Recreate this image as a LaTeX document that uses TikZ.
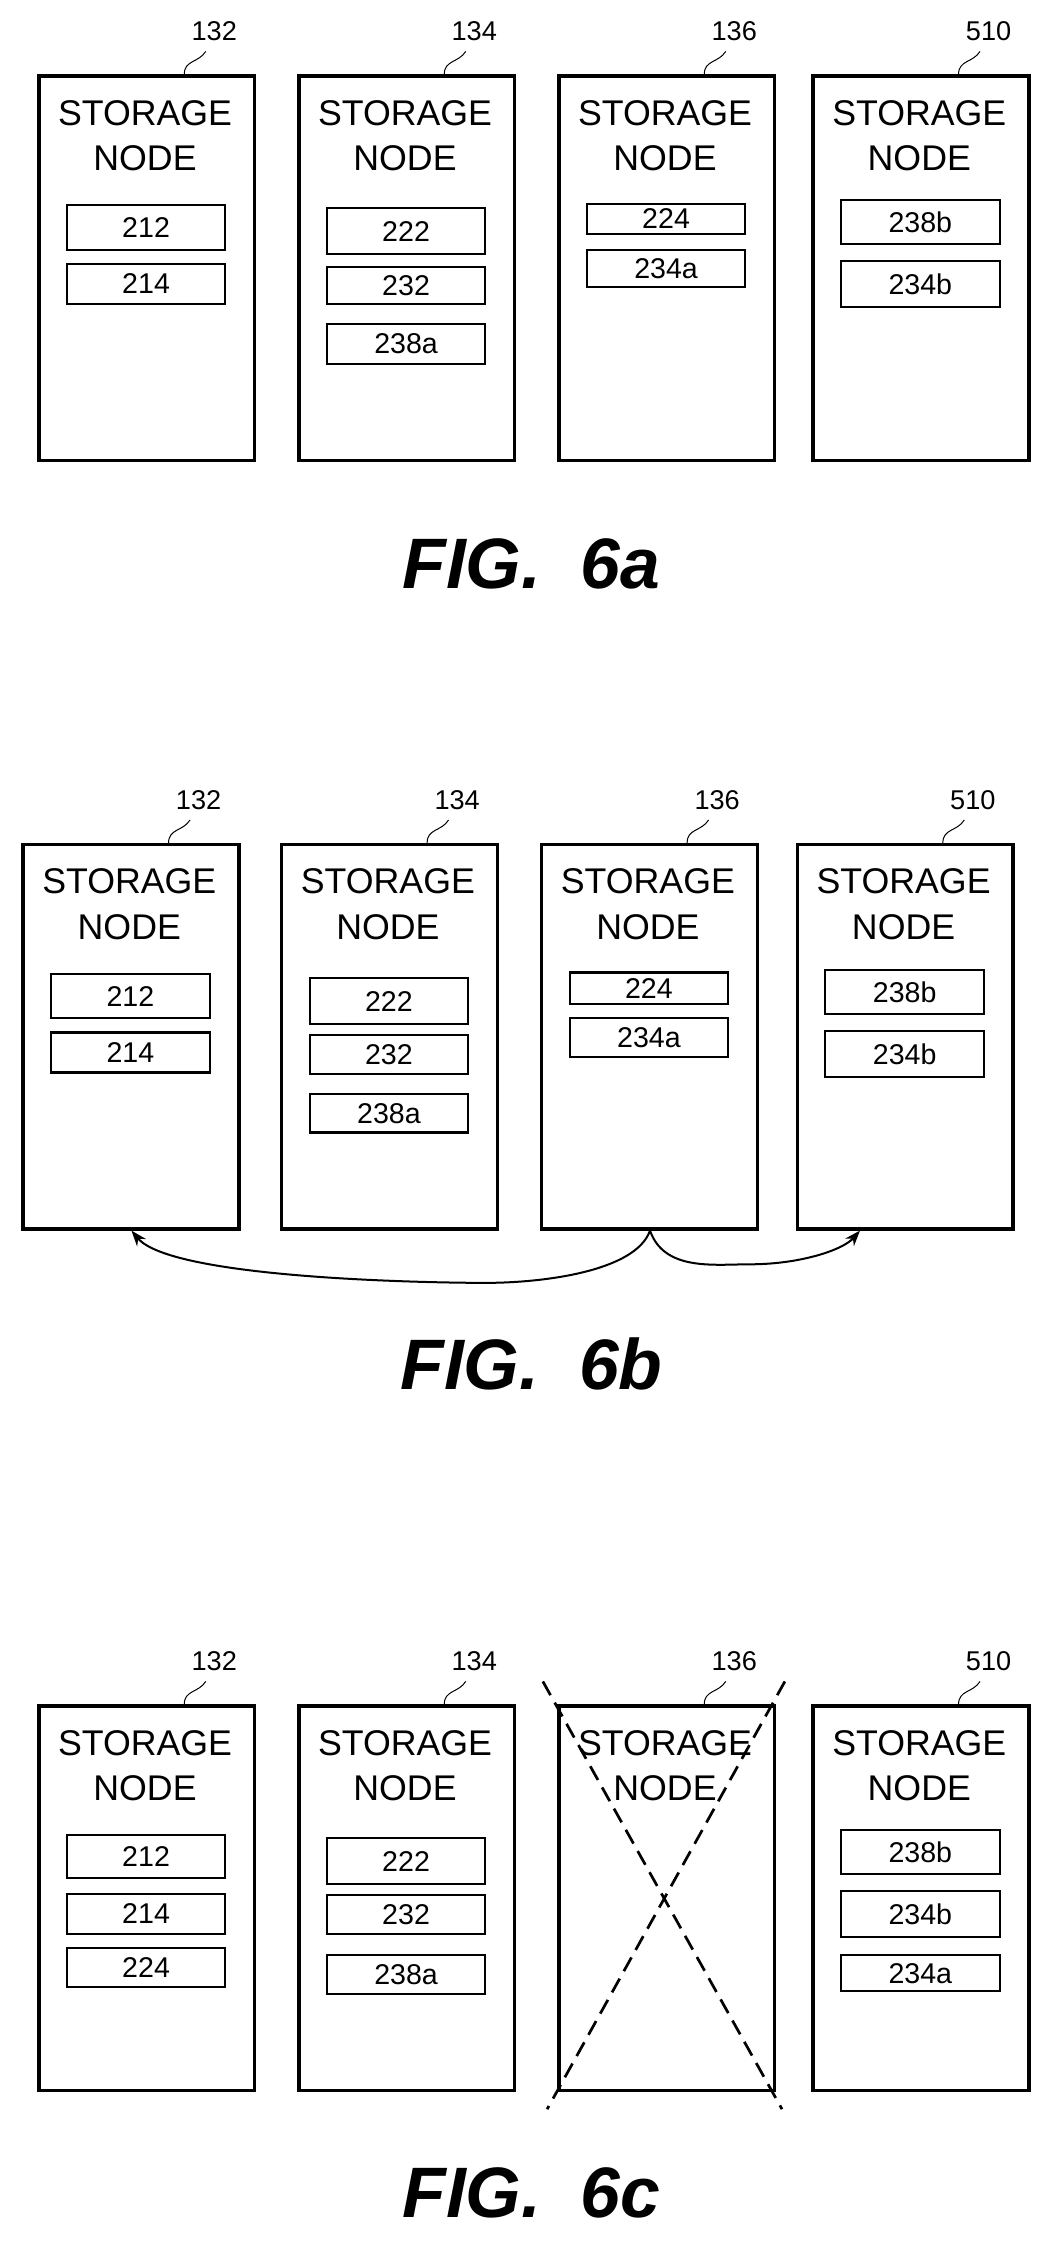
\documentclass[tikz,border=0pt]{standalone}
\usepackage{fontspec}
\setmainfont{Liberation Sans}
\usetikzlibrary{calc,arrows.meta}
\begin{document}
\begin{tikzpicture}[x=1pt,y=-1pt,
  sn/.style={draw,line width=2.4pt,minimum width=151pt,minimum height=269pt,anchor=north west,inner sep=0pt},
  ib/.style={draw,line width=1.5pt,minimum width=111pt,anchor=north west,inner sep=0pt,font=\fontsize{20}{20}\selectfont},
  tt/.style={font=\fontsize{25}{32}\selectfont,align=center},
  rl/.style={font=\fontsize{19}{19}\selectfont},
  fig/.style={font=\fontsize{50}{50}\selectfont\bfseries\itshape}]
\useasboundingbox (0,0) rectangle (737,1575);
\newcommand{\stn}[4]{%
  \node[sn] (#1) at (#2,#3) {};
  \node[tt] (#1t) at ($(#2,#3)+(75.5,43)$) {STORAGE\\NODE};
  \node[rl] (#1r) at ($(#2,#3)+(124,-30)$) {#4};
  \draw[line width=0.7pt] ($(#2,#3)+(103,0)$) .. controls ($(#2,#3)+(103,-10)$) and ($(#2,#3)+(113,-8)$) .. ($(#2,#3)+(118,-16)$);
}
\newcommand{\ibx}[6]{%
  \node[ib,minimum height=#4-#3] (#1) at (#2,#3) {#5};}
% ---- FIG 6a
\stn{a1}{26}{52}{132}\stn{a2}{208}{52}{134}\stn{a3}{390}{52}{136}\stn{a4}{568}{52}{510}
\ibx{a11}{46}{143}{174}{212}{}\ibx{a12}{46}{184}{212}{214}{}
\ibx{a21}{228}{145}{177}{222}{}\ibx{a22}{228}{186}{212}{232}{}\ibx{a23}{228}{226}{254}{238a}{}
\ibx{a31}{410}{142}{163}{224}{}\ibx{a32}{410}{174}{200}{234a}{}
\ibx{a41}{588}{139}{170}{238b}{}\ibx{a42}{588}{182}{214}{234b}{}
\node[fig] (fa) at (372,395) {FIG.\ \ 6a};
% ---- FIG 6b
\stn{b1}{15}{590}{132}\stn{b2}{196}{590}{134}\stn{b3}{378}{590}{136}\stn{b4}{557}{590}{510}
\ibx{b11}{35}{681}{712}{212}{}\ibx{b12}{35}{722}{750}{214}{}
\ibx{b21}{216}{684}{716}{222}{}\ibx{b22}{216}{724}{751}{232}{}\ibx{b23}{216}{765}{792}{238a}{}
\ibx{b31}{398}{680}{702}{224}{}\ibx{b32}{398}{712}{739}{234a}{}
\ibx{b41}{577}{678}{709}{238b}{}\ibx{b42}{577}{721}{753}{234b}{}
\coordinate (bs) at ($(b3.south west)+(77,0)$);
\coordinate (bl) at ($(b1.south west)+(77,0)$);
\coordinate (br) at ($(b4.south west)+(45,0)$);
\draw[line width=1.4pt,-{Stealth[length=11pt,width=8pt]}] (bs) .. controls (445,890) and (380,898) .. (340,898) .. controls (300,898) and (120,895) .. (bl);
\draw[line width=1.4pt,-{Stealth[length=11pt,width=8pt]}] (bs) .. controls (465,890) and (500,885) .. (525,885) .. controls (560,885) and (590,875) .. (br);
\node[fig] (fb) at (372,955) {FIG.\ \ 6b};
% ---- FIG 6c
\stn{c1}{26}{1193}{132}\stn{c2}{208}{1193}{134}\stn{c3}{390}{1193}{136}\stn{c4}{568}{1193}{510}
\ibx{c11}{46}{1284}{1314}{212}{}\ibx{c12}{46}{1325}{1353}{214}{}\ibx{c13}{46}{1363}{1390}{224}{}
\ibx{c21}{228}{1286}{1318}{222}{}\ibx{c22}{228}{1326}{1353}{232}{}\ibx{c23}{228}{1368}{1395}{238a}{}
\ibx{c41}{588}{1280}{1311}{238b}{}\ibx{c42}{588}{1323}{1355}{234b}{}\ibx{c43}{588}{1368}{1393}{234a}{}
\coordinate (x1) at ($(c3.north west)+(-10,-16)$);
\coordinate (x2) at ($(c3.south east)+(4,12)$);
\coordinate (x3) at ($(c3.north east)+(6,-16)$);
\coordinate (x4) at ($(c3.south west)+(-7,12)$);
\draw[line width=1.9pt,dash pattern=on 11pt off 6pt] (x1) -- (x2);
\draw[line width=1.9pt,dash pattern=on 11pt off 6pt] (x3) -- (x4);
\node[fig] (fc) at (372,1535) {FIG.\ \ 6c};
\end{tikzpicture}
\end{document}
